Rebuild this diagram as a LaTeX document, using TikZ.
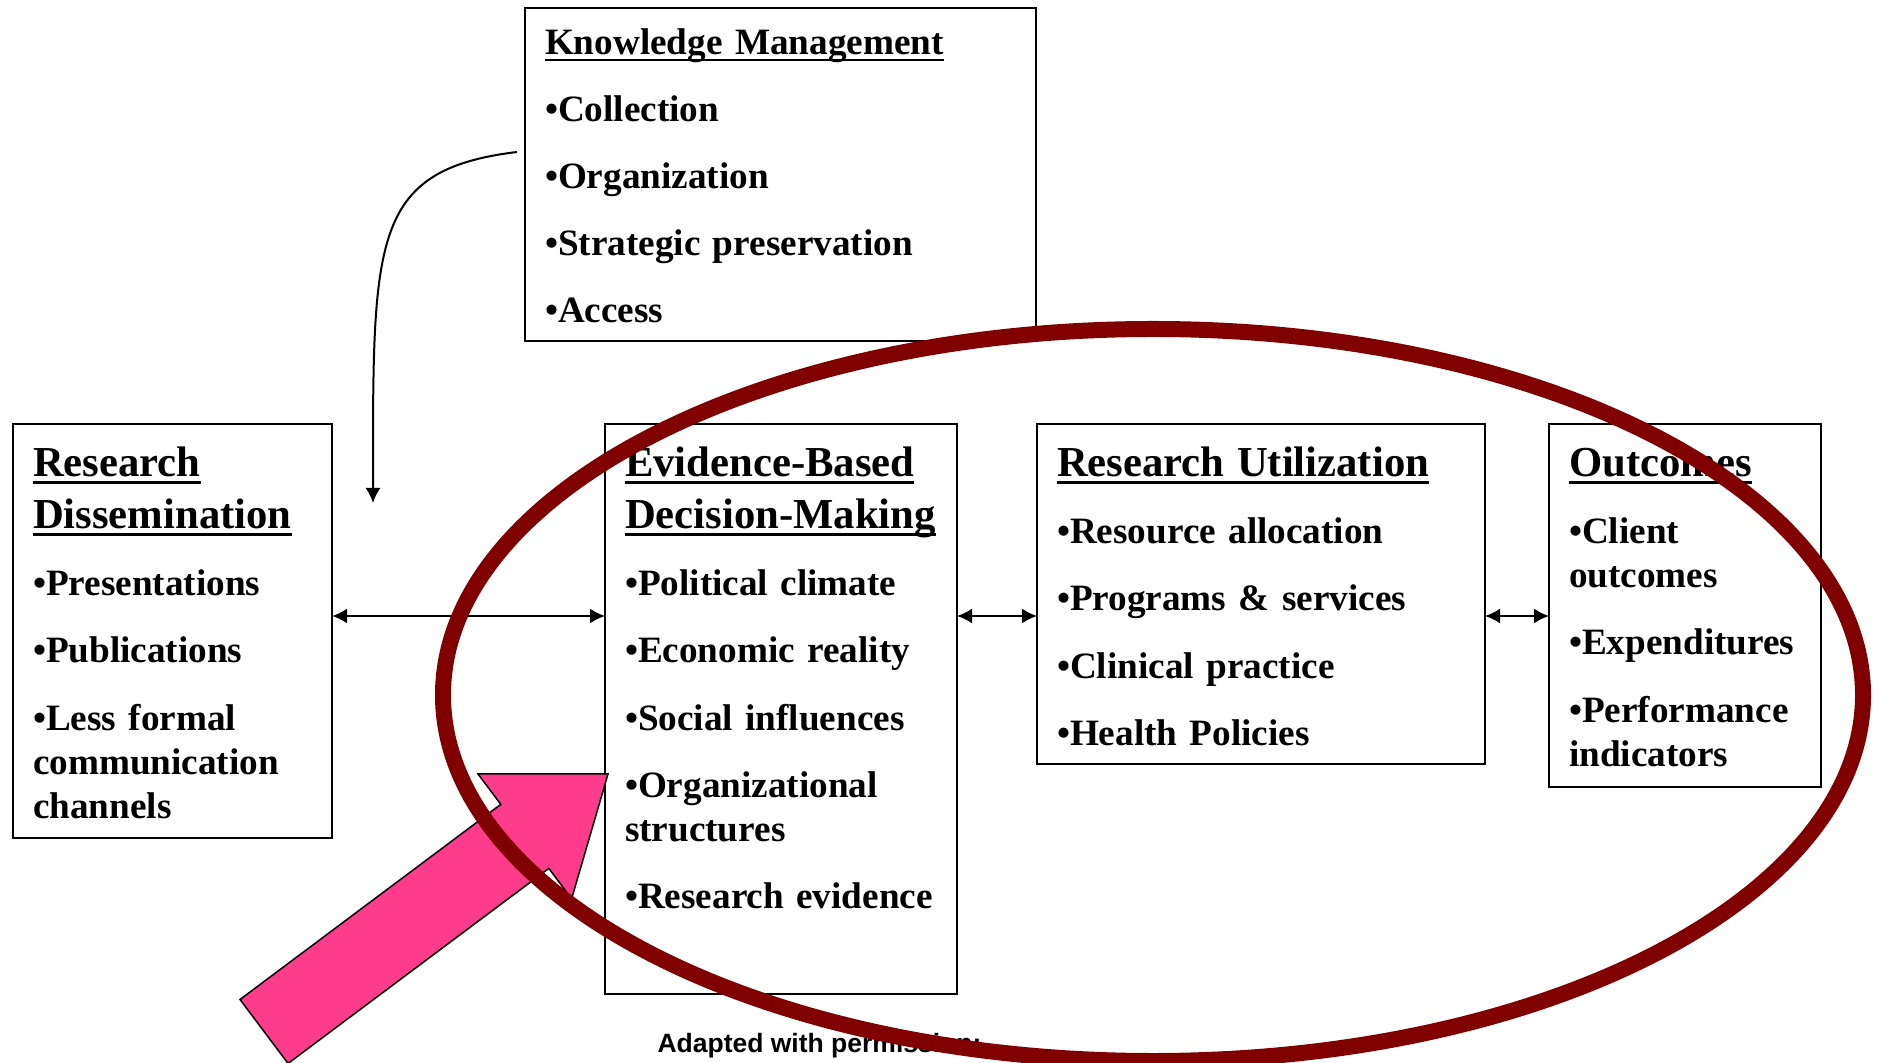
\documentclass[tikz,border=0pt]{standalone}
\usepackage{fontspec}
\setmainfont{Liberation Serif}
\newfontfamily\notefont{Liberation Sans}
\usetikzlibrary{arrows.meta, positioning}
\definecolor{mring}{HTML}{800000}
\definecolor{mpink}{HTML}{FF3C8C}
\newcommand{\itemsize}{\fontsize{14.88pt}{17.6pt}\selectfont\bfseries}
\newcommand{\headsize}{\fontsize{17.08pt}{20.8pt}\selectfont\bfseries}
\newcommand{\ttl}[1]{\leavevmode\setbox0=\hbox{#1}\rlap{\rule[-0.17em]{\wd0}{0.075em}}\box0}
\newcommand{\brk}{\\[9.2pt]}
\tikzstyle{box} = [rectangle, draw, line width=0.8pt, outer sep=0pt, inner xsep=8pt, inner ysep=0pt, align=left, anchor=north west, font=\itemsize, text height=21.2pt]
\tikzstyle{link} = [line width=0.8pt, {Latex[length=6pt,width=6pt]}-{Latex[length=6pt,width=6pt]}]
\tikzstyle{feed} = [line width=0.8pt, -{Latex[length=6pt,width=6pt]}]
\tikzstyle{pointer} = [draw, line width=0.6pt, fill=mpink]
\tikzstyle{ring} = [draw=mring, line width=6.4pt]

\begin{document}
\begin{tikzpicture}[x=0.4pt, y=-0.4pt]
  \useasboundingbox (0,0) rectangle (1878,1063);
  \node (km) [box, text width=188.4pt, text height=18.8pt, text depth=114.4pt] at (525,8)
    {\ttl{Knowledge Management}\brk •Collection\brk •Organization\brk •Strategic preservation\brk •Access};
  \node (rd) [box, text width=111.6pt, text depth=144.4pt] at (13,424)
    {{\headsize\ttl{Research}}\\[3.2pt]{\headsize\ttl{Dissemination}}\brk
     •Presentations\brk •Publications\brk •Less formal\\communication\\channels};
  \node (ebdm) [box, text width=124.8pt, text depth=206.8pt, right=109.2pt of rd.north east, anchor=north west]
    {{\headsize\ttl{Evidence-Based}}\\[3.2pt]{\headsize\ttl{Decision-Making}}\brk
     •Political climate\brk •Economic reality\brk •Social influences\brk
     •Organizational\\structures\brk •Research evidence};
  \node (ru) [box, text width=163.2pt, text depth=114.8pt, right=32pt of ebdm.north east, anchor=north west]
    {{\headsize\ttl{Research Utilization}}\brk •Resource allocation\brk •Programs \& services\brk
     •Clinical practice\brk •Health Policies};
  \node (out) [box, text width=92.8pt, text depth=124pt, right=25.6pt of ru.north east, anchor=north west]
    {{\headsize\ttl{Outcomes}}\brk •Client\\outcomes\brk •Expenditures\brk •Performance\\indicators};
  \coordinate (lvl) at (0,616);
  \coordinate (feedstart) at (517,152);
  \coordinate (feedend) at (373,503);
  \draw [link] (rd.east |- lvl) -- (ebdm.west |- lvl);
  \draw [link] (ebdm.east |- lvl) -- (ru.west |- lvl);
  \draw [link] (ru.east |- lvl) -- (out.west |- lvl);
  \draw [feed] (feedstart) .. controls (370,170) and (373,240) .. (feedend);
  % block arrow into the decision box
  \draw [pointer] (240,999.5) -- (500.8,804.4) -- (478,774) -- (608,774) -- (571.6,898.8)
    -- (548.8,868.4) -- (288,1063.5) -- cycle;
  \node (note) [anchor=base west, inner sep=0pt, font=\notefont\fontsize{10.6pt}{12pt}\selectfont\bfseries]
    at (657,1052) {Adapted with permission:};
  \draw [ring] (1153,695) ellipse [x radius=284pt, y radius=146.4pt];
\end{tikzpicture}
\end{document}
